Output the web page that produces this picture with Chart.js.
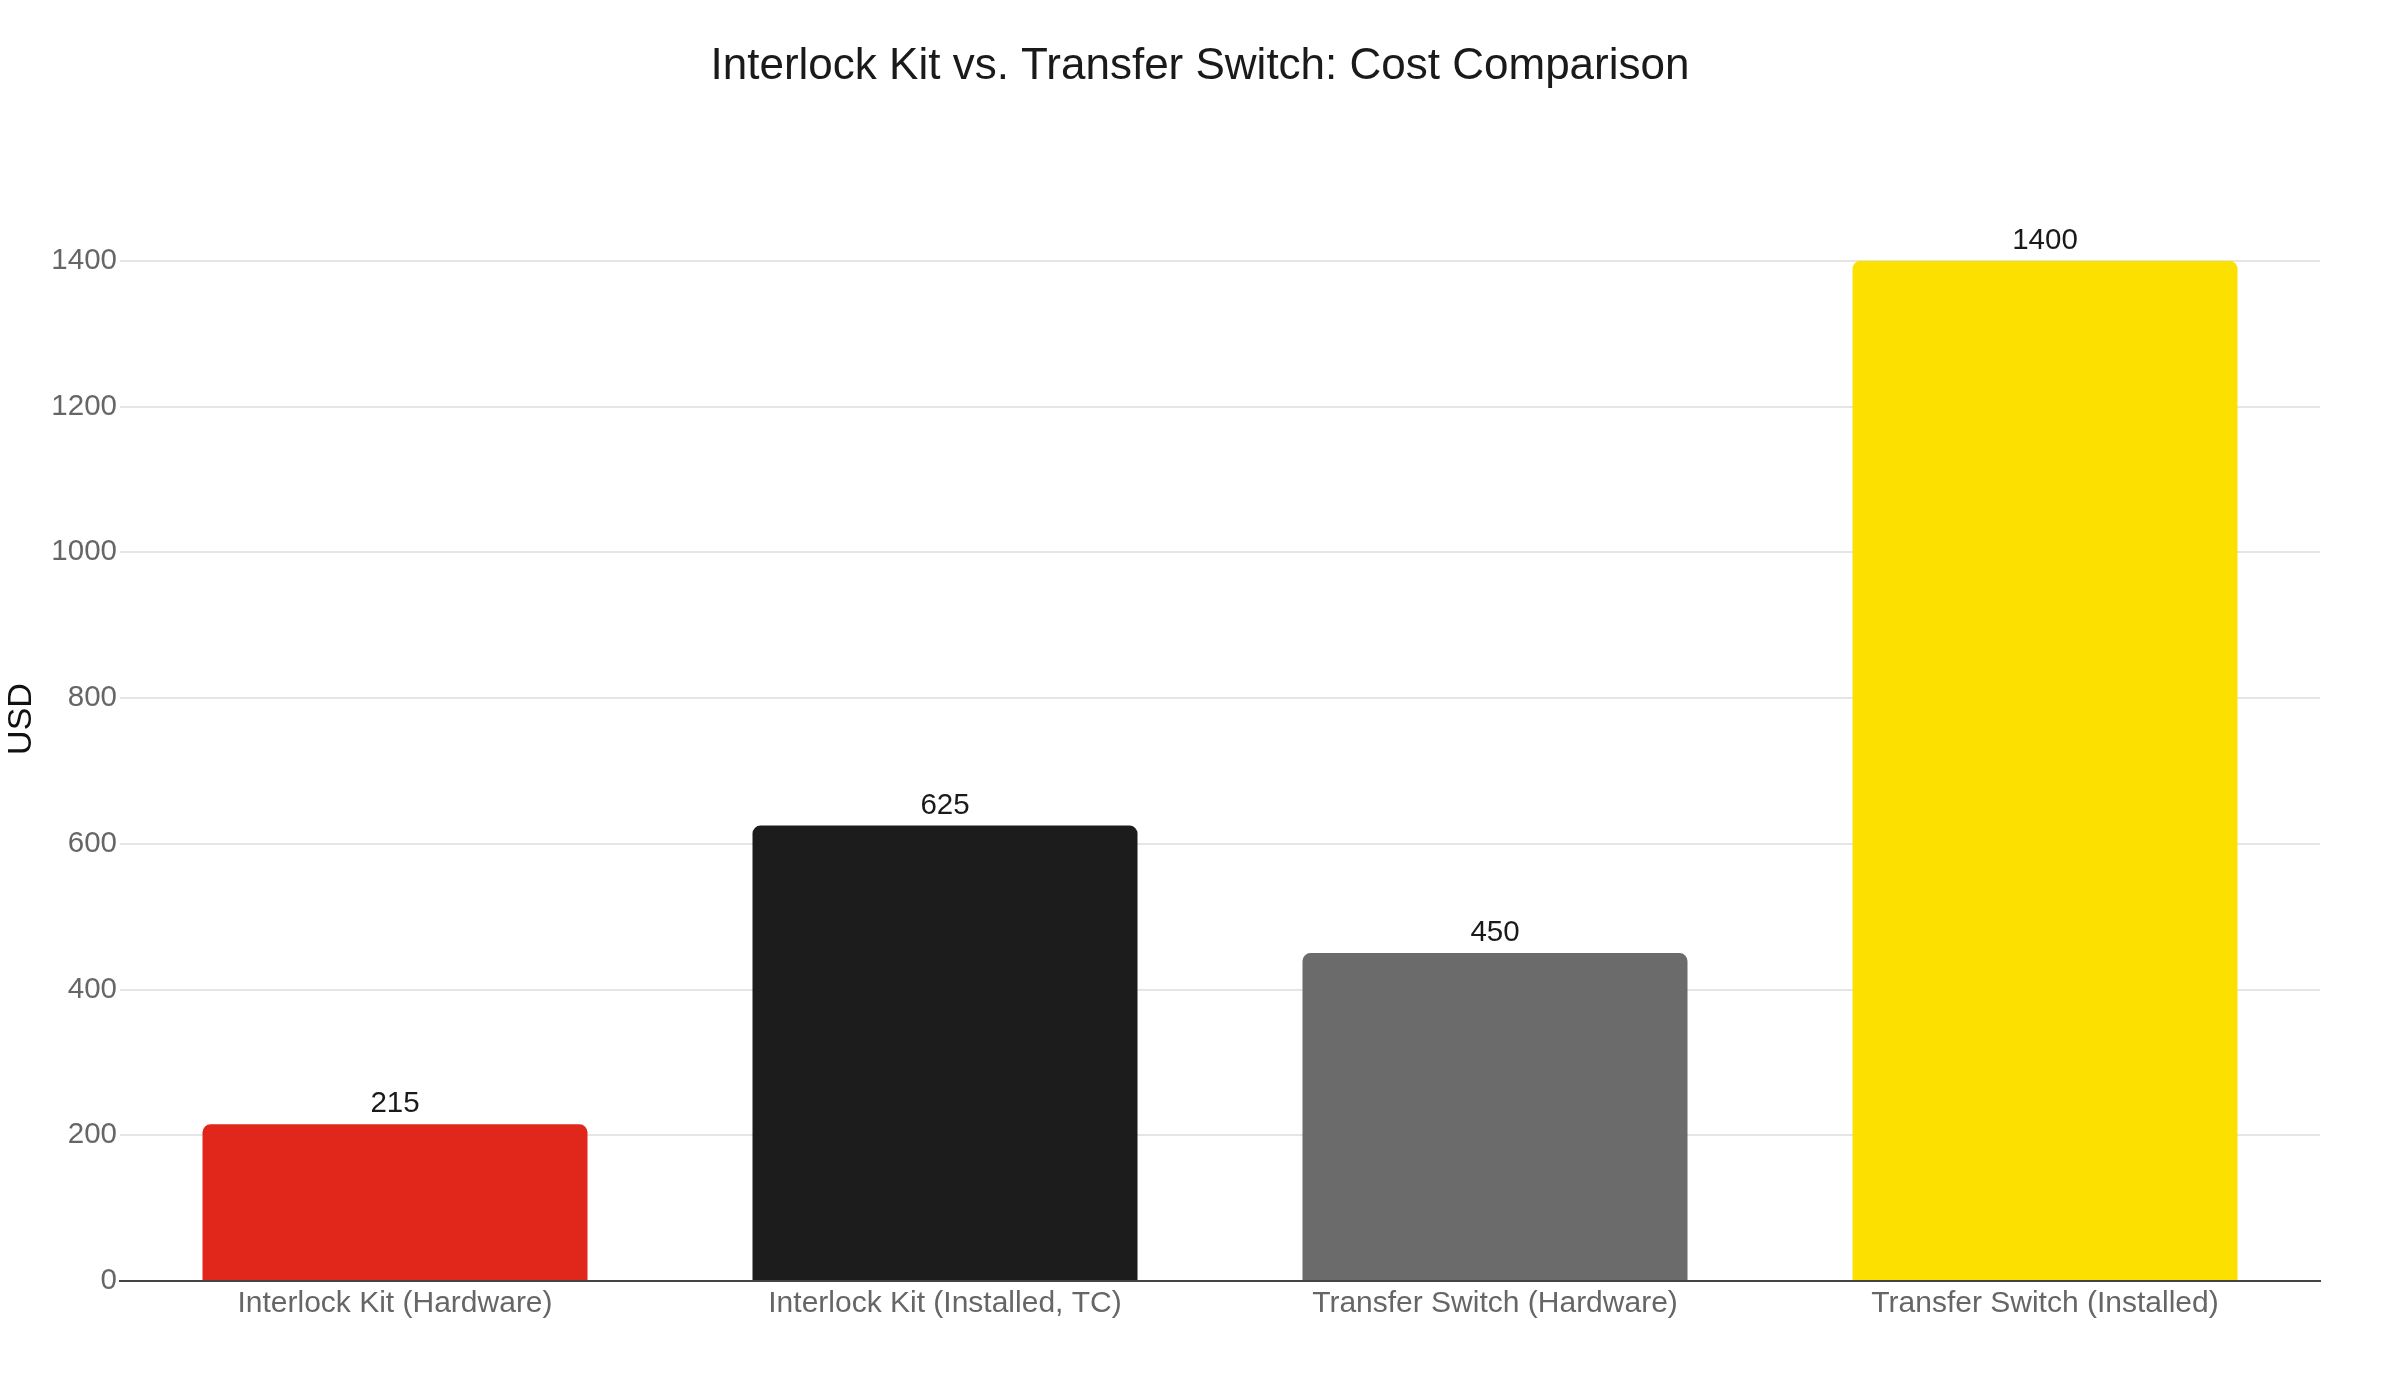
<!DOCTYPE html>
<html>
<head>
<meta charset="utf-8">
<script src="https://cdn.jsdelivr.net/npm/chart.js@4"></script>
<style>
  html, body { margin: 0; padding: 0; background: #fff; }
  #wrap { width: 2400px; height: 1400px; }
</style>
</head>
<body>
<div id="wrap"><canvas id="costChart"></canvas></div>
<script>
// data
const categories = ['Interlock Kit (Hardware)', 'Interlock Kit (Installed, TC)', 'Transfer Switch (Hardware)', 'Transfer Switch (Installed)'];
const costs = [215, 625, 450, 1400];
const barColors = ['#e1261c', '#1c1c1c', '#6b6b6b', '#fce100'];
const yTicks = [0, 200, 400, 600, 800, 1000, 1200, 1400];

Chart.defaults.font.family = '"Liberation Sans", Arial, sans-serif';

// value labels above each bar
const barValues = {
    id: 'barValues',
    afterDatasetsDraw(chart) {
        const ctx = chart.ctx;
        const meta = chart.getDatasetMeta(0);
        ctx.save();
        ctx.font = '29.5px "Liberation Sans", Arial, sans-serif';
        ctx.fillStyle = '#1a1a1a';
        ctx.textAlign = 'center';
        ctx.textBaseline = 'alphabetic';
        meta.data.forEach((bar, i) => {
            ctx.fillText(String(costs[i]), bar.x, bar.y - 12);
        });
        ctx.restore();
    }
};

// y-axis title, sits a bit above the middle of the plot
const yTitle = {
    id: 'yTitle',
    afterDraw(chart) {
        const ctx = chart.ctx;
        ctx.save();
        ctx.translate(22, 719);
        ctx.rotate(-Math.PI / 2);
        ctx.font = '34px "Liberation Sans", Arial, sans-serif';
        ctx.fillStyle = '#111';
        ctx.textAlign = 'center';
        ctx.textBaseline = 'middle';
        ctx.fillText('USD', 0, 0);
        ctx.restore();
    }
};

// centre the title on the whole canvas, not on the padded layout
const centreTitle = {
    id: 'centreTitle',
    afterLayout(chart) {
        if (chart.titleBlock) {
            chart.titleBlock.left = 0;
            chart.titleBlock.right = chart.width;
        }
    }
};

new Chart(document.getElementById('costChart'), {
    type: 'bar',
    data: {
        labels: categories,
        datasets: [{
            data: costs,
            backgroundColor: barColors,
            borderWidth: 0,
            borderRadius: 8,
            borderSkipped: 'start',
            barPercentage: 0.7,
            categoryPercentage: 1.0
        }]
    },
    options: {
        responsive: true,
        maintainAspectRatio: false,
        animation: false,
        layout: { padding: { left: 0, right: 80, top: 0, bottom: 73 } },
        plugins: {
            legend: { display: false },
            tooltip: { enabled: false },
            title: {
                display: true,
                text: 'Interlock Kit vs. Transfer Switch: Cost Comparison',
                color: '#1a1a1a',
                font: { size: 44, weight: 'normal', lineHeight: 1.2 },
                padding: { top: 40, bottom: 168 }
            }
        },
        scales: {
            x: {
                grid: { display: false, drawTicks: false },
                border: { display: true, color: '#444', width: 2 },
                ticks: { color: '#666', font: { size: 30 }, padding: 5, maxRotation: 0 }
            },
            y: {
                min: 0,
                max: 1400,
                afterFit(scale) { scale.width = 120; },
                afterBuildTicks(scale) { scale.ticks = yTicks.map(v => ({ value: v })); },
                grid: { color: '#e5e5e5', lineWidth: 2, drawTicks: false },
                border: { display: false },
                ticks: {
                    color: '#666',
                    font: { size: 29.5 },
                    padding: 3,
                    callback: v => String(v)
                }
            }
        }
    },
    plugins: [barValues, yTitle, centreTitle]
});
</script>
</body>
</html>
